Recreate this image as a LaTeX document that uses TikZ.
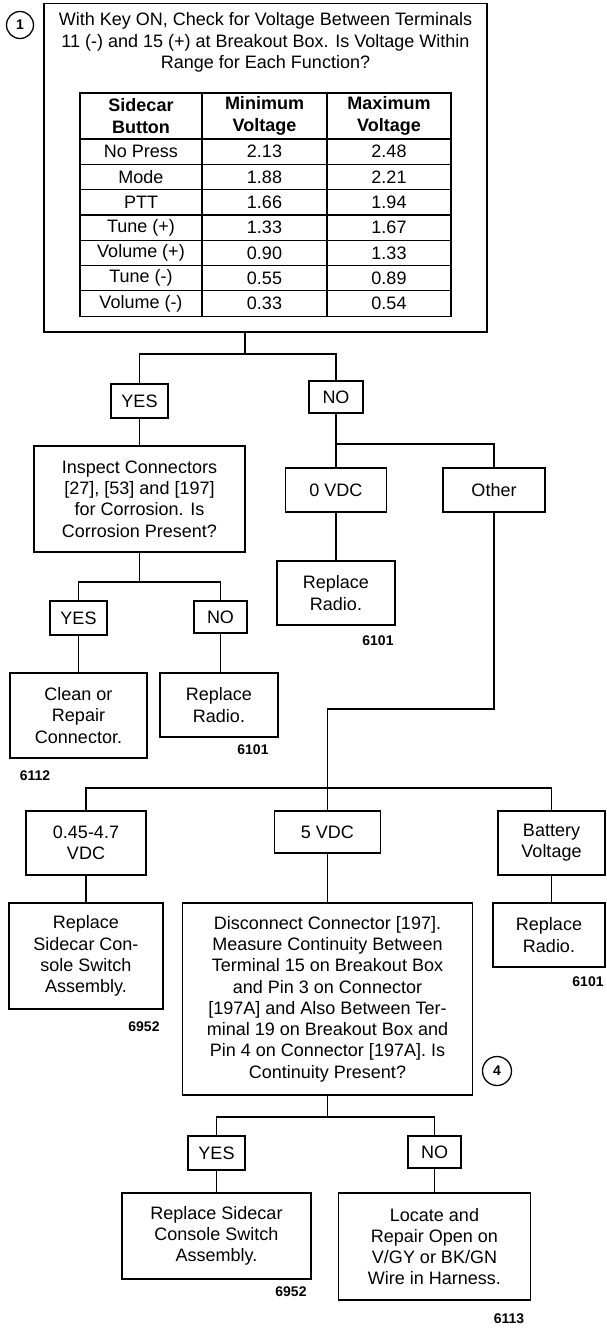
\documentclass[tikz,border=0pt]{standalone}
\usepackage{fontspec}
\setmainfont{Liberation Sans}
\newcommand\bodyfont{\fontsize{18}{21.3}\selectfont}
\newcommand\lblfont{\bfseries\fontsize{14}{16}\selectfont}
\begin{document}
\begin{tikzpicture}[x=1pt,y=-1pt,line width=1.3pt,
  box/.style={draw,inner sep=0pt,align=center,font=\bodyfont},
  sz/.style 2 args={minimum width=#1pt,minimum height=#2pt},
  cell/.style={inner sep=0pt,align=center,font=\bodyfont},
  hcell/.style={inner sep=0pt,align=center,font=\bodyfont\bfseries},
  lbl/.style={inner sep=0pt,font=\lblfont},
  circ/.style={draw,circle,inner sep=0pt,minimum size=27pt,font=\bfseries\fontsize{14}{15}\selectfont},
  tbl/.style={line width=1.2pt}]
\useasboundingbox (0,0) rectangle (607,1328);

% main question box
\node[box,sz={443}{328.5}] (main) at (265.5,167.75) {};
\node[cell] (title) at (265.5,42.5) {With Key ON, Check for Voltage Between Terminals\\11 (-) and 15 (+) at Breakout Box. Is Voltage Within\\Range for Each Function?};
\node[circ] (c1) at (20,25) {1};

% table
\draw[tbl] (80,93) rectangle (451,316.1);
\draw[tbl] (202,93) -- (202,316.1) (327,93) -- (327,316.1);
\foreach \yy in {139,164.3,189.6,214.9,240.2,265.5,290.8}
  \draw[tbl] (80,\yy) -- (451,\yy);
\node[hcell] (h1) at (141,116) {Sidecar\\Button};
\node[hcell] (h2) at (264.5,116) {Minimum\\Voltage};
\node[hcell] (h3) at (389,116) {Maximum\\Voltage};
\foreach \n/\a/\b/\c [count=\i from 0] in {r1/No Press/2.13/2.48,r2/Mode/1.88/2.21,r3/PTT/1.66/1.94,r4/Tune (+)/1.33/1.67,r5/Volume (+)/0.90/1.33,r6/Tune (-)/0.55/0.89,r7/Volume (-)/0.33/0.54}{
  \pgfmathsetmacro\yc{151.65+25.3*\i}
  \node[cell] (\n a) at (141,\yc) {\a};
  \node[cell] (\n b) at (264.5,\yc) {\b};
  \node[cell] (\n c) at (389,\yc) {\c};
}

% first level
\node[box,sz={57}{34}] (yes1) at (139.5,401) {YES};
\node[box,sz={54}{32}] (no1) at (336,397) {NO};
\coordinate (j1) at (245,354);
\draw (main.south -| j1) -- (j1);
\draw (yes1.north) |- (j1) -| (no1.north);

% YES branch
\node[box,sz={211}{106}] (insp) at (139.5,499) {Inspect Connectors\\{}[27], [53] and [197]\\for Corrosion. Is\\Corrosion Present?};
\draw (yes1.south) -- (insp.north);
\node[box,sz={57}{34}] (yes2) at (78.5,618) {YES};
\node[box,sz={53}{32}] (no2) at (220.5,617) {NO};
\coordinate (j2) at (139.5,582);
\draw (insp.south) -- (j2);
\draw (yes2.north) |- (j2) -| (no2.north);
\node[box,sz={137}{85}] (clean) at (78.5,715.5) {Clean or\\Repair\\Connector.};
\node[box,sz={118}{64}] (rr1) at (219,705) {Replace\\Radio.};
\draw (yes2.south) -- (clean.north);
\draw (no2.south) -- (no2.south |- rr1.north);
\node[lbl] (l6101a) at (253,750) {6101};
\node[lbl] (l6112) at (35,776) {6112};

% NO branch
\node[box,sz={101}{44}] (vdc0) at (336,490) {0 VDC};
\node[box,sz={102}{44}] (other) at (494,490) {Other};
\coordinate (j3) at (336,444);
\draw (no1.south) -- (j3);
\draw (vdc0.north) |- (j3) -| (other.north);
\node[box,sz={118}{64}] (rr2) at (336,593) {Replace\\Radio.};
\draw (vdc0.south) -- (rr2.north);
\node[lbl] (l6101b) at (378,641) {6101};

% Other branch
\node[box,sz={120}{64}] (vA) at (86,843) {0.45-4.7\\VDC};
\node[box,sz={106}{42}] (vdc5) at (327.5,832) {5 VDC};
\node[box,sz={107}{64}] (batt) at (551.5,843) {Battery\\Voltage};
\coordinate (j4) at (327.5,709);
\coordinate (j5) at (327.5,788);
\draw (other.south) |- (j4) -- (vdc5.north);
\draw (vA.north) |- (j5) -| (batt.north);

\node[box,sz={154}{106}] (rss) at (86,956) {Replace\\Sidecar Con-\\sole Switch\\Assembly.};
\draw (vA.south) -- (rss.north);
\node[lbl] (l6952a) at (144,1027) {6952};

\node[box,sz={290}{192}] (disc) at (327.5,999) {Disconnect Connector [197].\\Measure Continuity Between\\Terminal 15 on Breakout Box\\and Pin 3 on Connector\\{}[197A] and Also Between Ter-\\minal 19 on Breakout Box and\\Pin 4 on Connector [197A]. Is\\Continuity Present?};
\draw (vdc5.south) -- (disc.north);
\node[circ,minimum size=29pt] (c4) at (497,1071) {4};

\node[box,sz={112}{64}] (rr3) at (549,935) {Replace\\Radio.};
\draw (batt.south) -- (batt.south |- rr3.north);
\node[lbl] (l6101c) at (588,982) {6101};

% bottom level
\node[box,sz={57}{34}] (yes3) at (216.5,1153) {YES};
\node[box,sz={53}{32}] (no3) at (434.5,1152) {NO};
\coordinate (j6) at (327.5,1117);
\draw (disc.south) -- (j6);
\draw (yes3.north) |- (j6) -| (no3.north);
\node[box,sz={189}{86}] (rsc) at (216.5,1236) {Replace Sidecar\\Console Switch\\Assembly.};
\node[box,sz={192}{107}] (loc) at (434.5,1246.5) {Locate and\\Repair Open on\\V/GY or BK/GN\\Wire in Harness.};
\draw (yes3.south) -- (rsc.north);
\draw (no3.south) -- (loc.north);
\node[lbl] (l6952b) at (291,1292) {6952};
\node[lbl] (l6113) at (509,1319) {6113};
\end{tikzpicture}
\end{document}
